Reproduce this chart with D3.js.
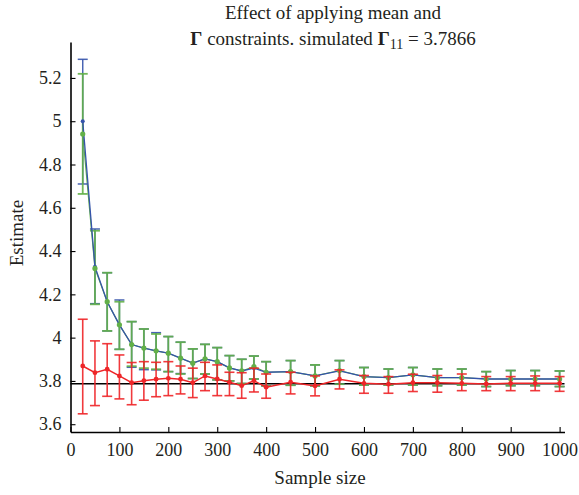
<!DOCTYPE html>
<html>
<head>
<meta charset="utf-8">
<script src="https://cdn.jsdelivr.net/npm/d3@7"></script>
<style>
  body { margin: 0; background: #fff; }
  svg { display: block; }
</style>
</head>
<body>
<div id="chart"></div>
<script>
// sample sizes (x)
var sampleSize = [25, 50, 75, 100, 125, 150, 175, 200, 225, 250, 275, 300, 325, 350, 375, 400,
                  450, 500, 550, 600, 650, 700, 750, 800, 850, 900, 950, 1000];

// unconstrained estimate (blue)
var blueMean = [5.0, 4.328, 4.166, 4.059, 3.968, 3.952, 3.939, 3.928, 3.905, 3.882, 3.902, 3.889, 3.86, 3.846, 3.859, 3.84,
                3.843, 3.823, 3.846, 3.82, 3.815, 3.828, 3.815, 3.815, 3.809, 3.809, 3.809, 3.809];
var blueLow  = [4.71, 4.157, 4.031, 3.946, 3.863, 3.852, 3.851, 3.843, 3.834, 3.811, 3.832, 3.805, 3.8, 3.788, 3.809, 3.777,
                3.78, 3.777, 3.785, 3.781, 3.781, 3.781, 3.778, 3.781, 3.774, 3.778, 3.778, 3.774];
var blueHigh = [5.286, 4.502, 4.3, 4.174, 4.074, 4.04, 4.023, 4.005, 3.979, 3.948, 3.969, 3.954, 3.917, 3.9, 3.915, 3.889,
                3.894, 3.874, 3.894, 3.862, 3.855, 3.862, 3.855, 3.855, 3.843, 3.848, 3.848, 3.846];

// mean constrained (green)
var greenMean = [4.941, 4.32, 4.166, 4.059, 3.968, 3.952, 3.939, 3.928, 3.905, 3.882, 3.902, 3.889, 3.86, 3.846, 3.866, 3.84,
                 3.843, 3.823, 3.848, 3.82, 3.815, 3.828, 3.815, 3.815, 3.809, 3.809, 3.809, 3.809];
var greenLow  = [4.664, 4.154, 4.031, 3.946, 3.868, 3.859, 3.854, 3.843, 3.832, 3.811, 3.832, 3.805, 3.8, 3.788, 3.809, 3.777,
                 3.78, 3.777, 3.785, 3.781, 3.781, 3.781, 3.778, 3.781, 3.774, 3.778, 3.778, 3.774];
var greenHigh = [5.219, 4.494, 4.3, 4.166, 4.074, 4.04, 4.017, 4.005, 3.979, 3.948, 3.969, 3.954, 3.917, 3.9, 3.915, 3.889,
                 3.894, 3.874, 3.894, 3.862, 3.855, 3.862, 3.855, 3.855, 3.843, 3.848, 3.848, 3.846];

// mean and gamma constrained (red)
var redMean = [3.869, 3.838, 3.854, 3.823, 3.792, 3.801, 3.808, 3.812, 3.808, 3.792, 3.823, 3.809, 3.794, 3.778, 3.801, 3.771,
               3.794, 3.777, 3.808, 3.789, 3.785, 3.792, 3.792, 3.789, 3.786, 3.789, 3.789, 3.789];
var redLow  = [3.648, 3.686, 3.729, 3.717, 3.69, 3.711, 3.727, 3.732, 3.74, 3.723, 3.755, 3.732, 3.732, 3.72, 3.749, 3.72,
               3.74, 3.731, 3.763, 3.743, 3.743, 3.751, 3.748, 3.755, 3.755, 3.755, 3.755, 3.752];
var redHigh = [4.085, 3.985, 3.972, 3.92, 3.885, 3.889, 3.886, 3.889, 3.869, 3.859, 3.886, 3.874, 3.84, 3.838, 3.859, 3.832,
               3.84, 3.823, 3.851, 3.825, 3.82, 3.831, 3.825, 3.832, 3.82, 3.82, 3.823, 3.82];

var simulatedGamma = 3.7866;
var xTicks = [0, 100, 200, 300, 400, 500, 600, 700, 800, 900, 1000];
var yTicks = [3.6, 3.8, 4, 4.2, 4.4, 4.6, 4.8, 5, 5.2];

var width = 579, height = 495;
var serif = '"Liberation Serif", "Times New Roman", "DejaVu Serif", serif';
var textColor = "#231f20";

var svg = d3.select("#chart").append("svg")
    .attr("width", width)
    .attr("height", height);

var x = d3.scaleLinear().domain([0, 1010]).range([70.5, 564.5]);
var y = d3.scaleLinear().domain([3.564, 5.366]).range([432, 42]);

// axes
var xAxis = svg.append("g")
    .attr("transform", "translate(0,432)")
    .call(d3.axisBottom(x).tickValues(xTicks).tickFormat(d3.format("d"))
          .tickSizeInner(-5).tickSizeOuter(0).tickPadding(11));
var yAxis = svg.append("g")
    .attr("transform", "translate(70.5,0)")
    .call(d3.axisLeft(y).tickValues(yTicks).tickFormat(function(d) { return String(d); })
          .tickSizeInner(-5).tickSizeOuter(0).tickPadding(9));

[xAxis, yAxis].forEach(function(g) {
  g.attr("font-family", serif).attr("font-size", 18);
  g.selectAll("text").attr("fill", textColor);
  g.selectAll("line").attr("stroke", "#000").attr("stroke-width", 1.1);
  g.select(".domain").attr("stroke", "#000").attr("stroke-width", 1.6);
});

// reference line at simulated value
svg.append("line")
    .attr("x1", x.range()[0]).attr("x2", x.range()[1])
    .attr("y1", y(simulatedGamma)).attr("y2", y(simulatedGamma))
    .attr("stroke", "#000").attr("stroke-width", 1.6);

function makeSeries(mean, low, high) {
  return sampleSize.map(function(s, i) {
    return { n: s, m: mean[i], lo: low[i], hi: high[i] };
  });
}

var line = d3.line().x(function(d) { return x(d.n); }).y(function(d) { return y(d.m); });

function drawLine(data, color, lineW) {
  svg.append("path").datum(data)
    .attr("d", line).attr("fill", "none")
    .attr("stroke", color).attr("stroke-width", lineW);
}

function drawBars(data, color, barW) {
  var cap = 5;
  var bars = svg.append("g").selectAll("g").data(data).enter().append("g")
    .attr("stroke", color).attr("stroke-width", barW).attr("stroke-opacity", 0.9);
  bars.append("line")
    .attr("x1", function(d) { return x(d.n); }).attr("x2", function(d) { return x(d.n); })
    .attr("y1", function(d) { return y(d.lo); }).attr("y2", function(d) { return y(d.hi); });
  bars.append("line")
    .attr("x1", function(d) { return x(d.n) - cap; }).attr("x2", function(d) { return x(d.n) + cap; })
    .attr("y1", function(d) { return y(d.lo); }).attr("y2", function(d) { return y(d.lo); });
  bars.append("line")
    .attr("x1", function(d) { return x(d.n) - cap; }).attr("x2", function(d) { return x(d.n) + cap; })
    .attr("y1", function(d) { return y(d.hi); }).attr("y2", function(d) { return y(d.hi); });
}

function drawDots(data, color, r) {
  svg.append("g").selectAll("circle").data(data).enter().append("circle")
    .attr("cx", function(d) { return x(d.n); })
    .attr("cy", function(d) { return y(d.m); })
    .attr("r", r).attr("fill", color);
}

var blue = makeSeries(blueMean, blueLow, blueHigh);
var green = makeSeries(greenMean, greenLow, greenHigh);
var red = makeSeries(redMean, redLow, redHigh);

var blueC = "#3553ab", greenC = "#62b048", redC = "#ee2528";

drawLine(green, greenC, 1.2);
drawBars(blue, blueC, 1.5);
drawBars(green, greenC, 1.8);
drawLine(blue, blueC, 1.3);
drawDots(blue, blueC, 2);
drawDots(green, greenC, 2.6);

drawLine(red, redC, 1.5);
drawBars(red, redC, 1.6);
drawDots(red, redC, 2.4);

// title
var title = svg.append("text")
    .attr("text-anchor", "middle")
    .attr("font-family", serif)
    .attr("font-size", 19)
    .attr("fill", textColor);
title.append("tspan").attr("x", 333).attr("y", 19).text("Effect of applying mean and");
var l2 = title.append("tspan").attr("x", 333).attr("y", 45);
l2.append("tspan").attr("font-weight", "bold").text("\u0393");
l2.append("tspan").text(" constraints. simulated ");
l2.append("tspan").attr("font-weight", "bold").text("\u0393");
l2.append("tspan").attr("dy", 4).attr("font-size", 14).text("11");
l2.append("tspan").attr("dy", -4).text(" = 3.7866");

// axis labels
svg.append("text")
    .attr("x", 320).attr("y", 484)
    .attr("text-anchor", "middle")
    .attr("font-family", serif)
    .attr("font-size", 19)
    .attr("fill", textColor)
    .text("Sample size");
svg.append("text")
    .attr("transform", "translate(23,233) rotate(-90)")
    .attr("text-anchor", "middle")
    .attr("font-family", serif)
    .attr("font-size", 19)
    .attr("fill", textColor)
    .text("Estimate");
</script>
</body>
</html>
